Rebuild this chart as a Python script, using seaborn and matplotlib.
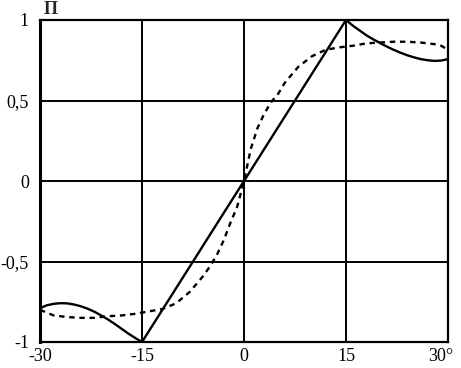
import matplotlib
matplotlib.use("Agg")
import matplotlib.pyplot as plt
import matplotlib.transforms as mtransforms
import seaborn as sns
import pandas as pd

# solid curve
solid_x = [-30, -29, -28, -27, -26, -25, -24, -23, -22, -21, -20, -19, -18, -17, -16, -15,
           15, 16, 17, 18, 19, 20, 21, 22, 23, 24, 25, 26, 27, 28, 29, 30]
solid_y = [-0.79, -0.772, -0.763, -0.759, -0.76, -0.767, -0.778, -0.793, -0.812, -0.835,
           -0.86, -0.888, -0.918, -0.948, -0.975, -1.0,
           1.0, 0.965, 0.935, 0.905, 0.88, 0.857, 0.835, 0.815, 0.797, 0.781, 0.768,
           0.757, 0.75, 0.746, 0.748, 0.757]

# dashed curve
dash_x = [-30, -28, -26, -24, -22, -20, -18, -16, -14, -12, -10, -8, -6, -5, -4, -3, -2, -1, 0,
          1, 2, 3, 4, 5, 6, 8, 10, 12, 14, 16, 18, 20, 22, 24, 26, 28, 29, 30]
dash_y = [-0.80, -0.835, -0.845, -0.85, -0.85, -0.84, -0.835, -0.825, -0.81, -0.795, -0.76,
          -0.69, -0.59, -0.53, -0.46, -0.37, -0.26, -0.16, 0.0,
          0.2, 0.33, 0.42, 0.49, 0.54, 0.61, 0.71, 0.775, 0.815, 0.83, 0.84, 0.855, 0.86,
          0.865, 0.865, 0.86, 0.85, 0.84, 0.815]

x_ticks = [-30, -15, 0, 15, 30]
x_labels = ["-30", "-15", "0", "15", "30°"]
y_ticks = [-1, -0.5, 0, 0.5, 1]
y_labels = ["-1", "-0,5", "0", "0,5", "1"]

sns.set_style("white")
plt.rcParams["font.family"] = ["Liberation Serif", "DejaVu Serif"]

fig = plt.figure(figsize=(4.61, 3.68), dpi=100)
ax = fig.add_axes([40 / 461, 26 / 368, 408 / 461, 322 / 368])

df_solid = pd.DataFrame({"x": solid_x, "y": solid_y})
df_dash = pd.DataFrame({"x": dash_x, "y": dash_y})

sns.lineplot(data=df_solid, x="x", y="y", ax=ax, color="black", linewidth=1.7, sort=False)
sns.lineplot(data=df_dash, x="x", y="y", ax=ax, color="black", linewidth=1.7,
             linestyle=(0, (2.3, 2.0)), sort=False)

ax.set_xlim(-30, 30)
ax.set_ylim(-1, 1)
ax.set_xticks(x_ticks)
ax.set_xticklabels(x_labels)
ax.set_yticks(y_ticks)
ax.set_yticklabels(y_labels)
ax.tick_params(axis="both", length=0, labelsize=13, colors="black")
ax.tick_params(axis="x", pad=4)
ax.tick_params(axis="y", pad=8)
ax.set_xlabel("")
ax.set_ylabel("")

ax.grid(True, color="black", linewidth=1.4)
for s in ax.spines.values():
    s.set_color("black")
    s.set_linewidth(1.6)
ax.spines["left"].set_linewidth(2.2)

# shift the "30°" label so the digits sit under the edge
lab = ax.get_xticklabels()[-1]
lab.set_transform(lab.get_transform() + mtransforms.ScaledTranslation(-7 / 100, 0, fig.dpi_scale_trans))

fig.text(44 / 461, 1 - 9 / 368, "П", fontsize=13, fontweight="bold", ha="left", va="center")

fig.savefig("out.png", dpi=100)
